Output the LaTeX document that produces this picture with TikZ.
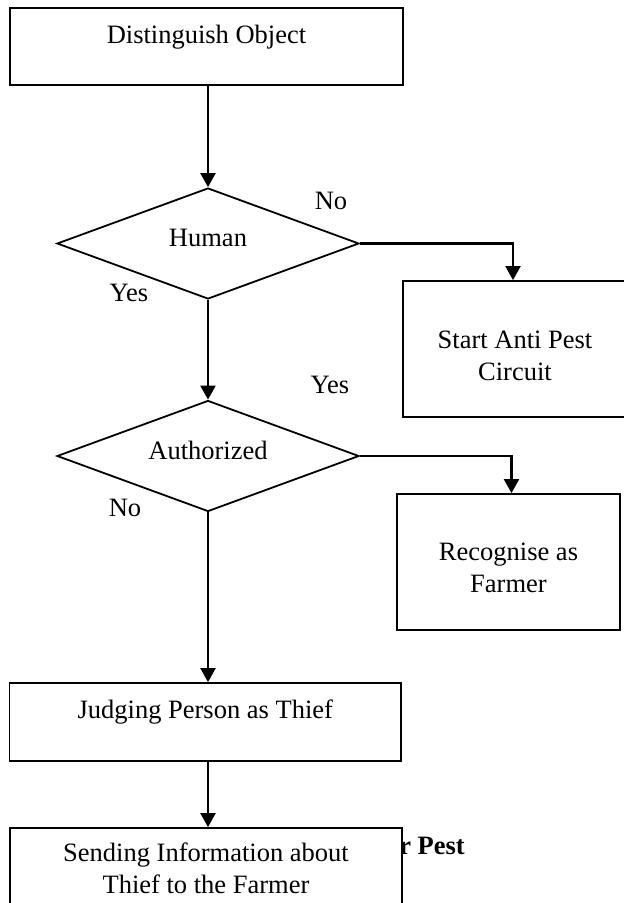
\documentclass[tikz,border=0pt]{standalone}
\usepackage{fontspec}
\setmainfont{Liberation Serif}
\usetikzlibrary{shapes.geometric,arrows.meta}

\tikzset{
  txt/.style={font=\fontsize{26.5}{32}\selectfont},
  procbox/.style={txt, draw, line width=1.8pt, fill=white, inner sep=0pt, align=center},
  onebox/.style={procbox, text height=18pt, text depth=25pt},
  twobox/.style={procbox, text depth=0pt},
  decision/.style={txt, draw, diamond, aspect=2.7, line width=1.8pt, inner sep=0pt,
    minimum width=302pt, minimum height=111pt, text height=18pt, text depth=12pt},
  arr/.style={-{Triangle[length=14pt,width=15pt]}, line width=2.2pt},
}

\begin{document}
\begin{tikzpicture}[x=1pt,y=-1pt]
  \useasboundingbox (0,0) rectangle (624,903);

  \node[onebox, minimum width=393pt, minimum height=77pt] (dist) at (206.5,46.5) {Distinguish Object};
  \node[decision] (human) at (208,243.5) {Human};
  \node[twobox, text height=62pt, minimum width=224pt, minimum height=136pt] (start) at (515,349) {Start Anti Pest\\Circuit};
  \node[decision] (auth) at (208,456) {Authorized};
  \node[twobox, text height=61pt, minimum width=223pt, minimum height=136pt] (recog) at (508.5,562) {Recognise as\\Farmer};
  \node[onebox, minimum width=391.5pt, minimum height=78pt] (judge) at (205.3,722) {Judging Person as Thief};

  % caption text, partly under the last box
  \node[txt, font=\fontsize{26.5}{32}\selectfont\bfseries, anchor=base east, inner sep=0pt] (cap) at (465,854) {r Pest};
  \node[twobox, text height=40pt, minimum width=391.5pt, minimum height=90pt] (send) at (206,873) {Sending Information about\\Thief to the Farmer};

  \node[txt, anchor=base] (noA) at (331,209) {No};
  \node[txt, anchor=base] (yesA) at (129,301) {Yes};
  \node[txt, anchor=base] (yesB) at (330,393) {Yes};
  \node[txt, anchor=base] (noB) at (125,516) {No};

  \draw[arr] (dist.south -| human.north) -- (human.north);
  \draw[arr] (human.south) -- (auth.north);
  \draw[arr] (human.east) -| ([xshift=-2pt]start.north);
  \draw[arr] (auth.east) -| ([xshift=3pt]recog.north);
  \draw[arr] (auth.south) -- (auth.south |- judge.north);
  \draw[arr] (judge.south -| auth.south) -- (auth.south |- send.north);
\end{tikzpicture}
\end{document}
